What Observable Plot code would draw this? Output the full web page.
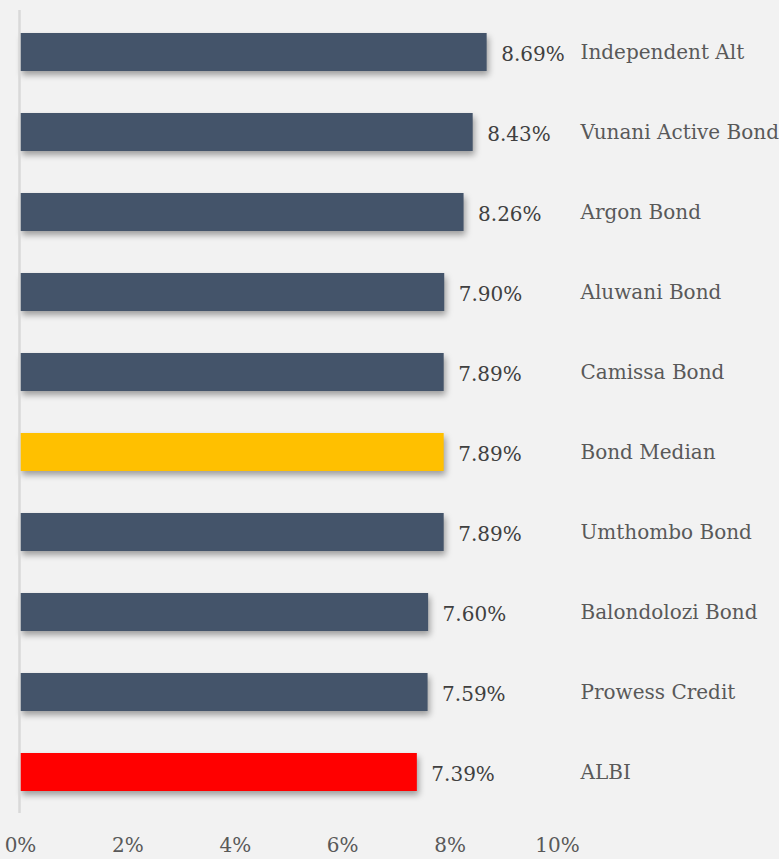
<!DOCTYPE html>
<html>
<head>
<meta charset="utf-8">
<script src="https://cdn.jsdelivr.net/npm/d3@7"></script>
<script src="https://cdn.jsdelivr.net/npm/@observablehq/plot@0.6"></script>
<style>
  html, body { margin: 0; padding: 0; background: #f2f2f2; overflow: hidden; }
  #chart { width: 779px; height: 859px; }
</style>
</head>
<body>
<div id="chart"></div>
<script>
const funds = ["Independent Alt", "Vunani Active Bond", "Argon Bond", "Aluwani Bond", "Camissa Bond", "Bond Median", "Umthombo Bond", "Balondolozi Bond", "Prowess Credit", "ALBI"];
const returns = [8.69, 8.43, 8.26, 7.90, 7.89, 7.89, 7.89, 7.60, 7.59, 7.39];
const colors = ["#44546a", "#44546a", "#44546a", "#44546a", "#44546a", "#ffc000", "#44546a", "#44546a", "#44546a", "#ff0000"];
const xTicks = [0, 2, 4, 6, 8, 10];

const data = funds.map((f, i) => ({fund: f, value: returns[i], color: colors[i]}));
const font = "'DejaVu Serif', 'Liberation Serif', serif";

const plot = Plot.plot({
  width: 779,
  height: 859,
  marginLeft: 20,
  marginRight: 222,
  marginTop: 10,
  marginBottom: 46,
  style: {background: "#f2f2f2", fontFamily: font, fontSize: "20px", overflow: "visible"},
  x: {domain: [0, 10], ticks: xTicks, tickFormat: d => d + "%"},
  y: {domain: funds, padding: 0},
  marks: [
    Plot.barX(data, {x: "value", y: "fund", fill: "color", insetTop: 21, insetBottom: 21}),
    Plot.ruleX([0], {stroke: "#d9d9d9", strokeWidth: 2.5, dx: -1}),
    Plot.text(data, {x: "value", y: "fund", text: d => d.value.toFixed(2) + "%", textAnchor: "start", dx: 14, dy: 2, fill: "#404040", fontSize: 20}),
    Plot.axisX({ticks: xTicks, tickFormat: d => d + "%", tickSize: 0, tickPadding: 24, fill: "#595959", fontSize: 20, label: null}),
    Plot.axisY({anchor: "right", tickSize: 0, tickPadding: 23, textAnchor: "start", fill: "#595959", fontSize: 20, label: null})
  ]
});
document.getElementById("chart").appendChild(plot);
d3.select(plot).selectAll("g[aria-label='bar'] rect").style("filter", "drop-shadow(2px 4px 3px rgba(0,0,0,0.35))");
</script>
</body>
</html>
